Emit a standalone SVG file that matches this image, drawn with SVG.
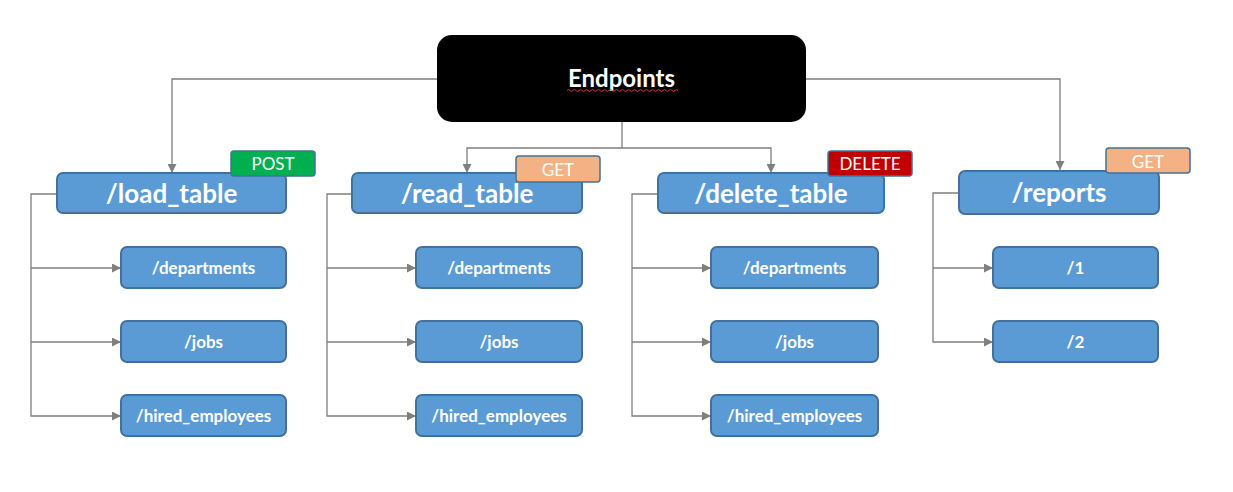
<svg xmlns="http://www.w3.org/2000/svg" width="1233" height="492" viewBox="0 0 1233 492">
<defs>
<marker id="arr" markerUnits="userSpaceOnUse" markerWidth="9" markerHeight="9" viewBox="0 0 10 10" refX="10" refY="5" orient="auto">
<path d="M0,0 L10,5 L0,10 z" fill="#7F7F7F"/>
</marker>
<style>
.bx{fill:#5B9BD5;stroke:#41719C;stroke-width:2}
.ln{fill:none;stroke:#7F7F7F;stroke-width:1.3}
.main{font-family:Lato,"Liberation Sans",Arial,sans-serif;font-weight:bold;font-size:26px;fill:#fff;text-anchor:middle}
.sub{font-family:Lato,"Liberation Sans",Arial,sans-serif;font-weight:bold;font-size:17px;fill:#fff;text-anchor:middle}
.bd{font-family:Lato,"Liberation Sans",Arial,sans-serif;font-size:17px;fill:#fff;text-anchor:middle}
</style>
</defs>
<rect width="1233" height="492" fill="#fff"/>
<g id="connectors">
<path class="ln" d="M437,79 H172 V173" marker-end="url(#arr)"/>
<path class="ln" d="M806,79 H1060 V170" marker-end="url(#arr)"/>
<path class="ln" d="M622,122 V148 H467 V173" marker-end="url(#arr)"/>
<path class="ln" d="M622,148 H771 V173" marker-end="url(#arr)"/>
<path class="ln" d="M57,194 H31 V416 H121" marker-end="url(#arr)"/>
<path class="ln" d="M31,268 H121" marker-end="url(#arr)"/>
<path class="ln" d="M31,342 H121" marker-end="url(#arr)"/>
<path class="ln" d="M352,194 H327 V416 H416" marker-end="url(#arr)"/>
<path class="ln" d="M327,268 H416" marker-end="url(#arr)"/>
<path class="ln" d="M327,342 H416" marker-end="url(#arr)"/>
<path class="ln" d="M658,194 H632 V416 H711" marker-end="url(#arr)"/>
<path class="ln" d="M632,268 H711" marker-end="url(#arr)"/>
<path class="ln" d="M632,342 H711" marker-end="url(#arr)"/>
<path class="ln" d="M959,193 H933 V342 H993" marker-end="url(#arr)"/>
<path class="ln" d="M933,268 H993" marker-end="url(#arr)"/>
</g>
<g id="endpoints">
<rect x="437" y="35" width="369" height="87" rx="15" fill="#000"/>
<text x="621.5" y="87" font-family="Lato,'Liberation Sans',Arial,sans-serif" font-weight="bold" font-size="24" fill="#fff" text-anchor="middle">Endpoints</text>
<path d="M567,90.5 q1.5,-2 3,0 t3,0 t3,0 t3,0 t3,0 t3,0 t3,0 t3,0 t3,0 t3,0 t3,0 t3,0 t3,0 t3,0 t3,0 t3,0 t3,0 t3,0 t3,0 t3,0 t3,0 t3,0 t3,0 t3,0 t3,0 t3,0 t3,0 t3,0 t3,0 t3,0 t3,0 t3,0 t3,0 t3,0 t3,0 t3,0 t3,0" fill="none" stroke="#E03030" stroke-width="1"/>
</g>
<g id="load_table">
<rect class="bx" x="57" y="173" width="229" height="40" rx="6"/>
<text class="main" x="171.5" y="202.5">/load_table</text>
</g>
<g id="badge_post">
<rect x="231" y="151" width="84" height="25" rx="3" fill="#00B050" stroke="#41719C" stroke-width="1.5"/>
<text class="bd" x="273" y="170">POST</text>
</g>
<g id="load_departments"><rect class="bx" x="121" y="247" width="165" height="41" rx="6"/><text class="sub" x="203.5" y="274">/departments</text></g>
<g id="load_jobs"><rect class="bx" x="121" y="321" width="165" height="41" rx="6"/><text class="sub" x="203.5" y="348">/jobs</text></g>
<g id="load_hired"><rect class="bx" x="121" y="395" width="165" height="41" rx="6"/><text class="sub" x="203.5" y="422">/hired_employees</text></g>

<g id="read_table">
<rect class="bx" x="352" y="173" width="230" height="40" rx="6"/>
<text class="main" x="467" y="202.5">/read_table</text>
</g>
<g id="badge_get_read">
<rect x="516" y="156" width="84" height="26" rx="3" fill="#F4B183" stroke="#41719C" stroke-width="1.5"/>
<text class="bd" x="558" y="175.5">GET</text>
</g>
<g id="read_departments"><rect class="bx" x="416" y="247" width="166" height="41" rx="6"/><text class="sub" x="499" y="274">/departments</text></g>
<g id="read_jobs"><rect class="bx" x="416" y="321" width="166" height="41" rx="6"/><text class="sub" x="499" y="348">/jobs</text></g>
<g id="read_hired"><rect class="bx" x="416" y="395" width="166" height="41" rx="6"/><text class="sub" x="499" y="422">/hired_employees</text></g>

<g id="delete_table">
<rect class="bx" x="658" y="173" width="226" height="40" rx="6"/>
<text class="main" x="771" y="202.5">/delete_table</text>
</g>
<g id="badge_delete">
<rect x="828" y="151" width="84" height="25" rx="3" fill="#C00000" stroke="#41719C" stroke-width="1.5"/>
<text class="bd" x="870" y="169.5" font-size="14.5">DELETE</text>
</g>
<g id="delete_departments"><rect class="bx" x="711" y="247" width="167" height="41" rx="6"/><text class="sub" x="794.5" y="274">/departments</text></g>
<g id="delete_jobs"><rect class="bx" x="711" y="321" width="167" height="41" rx="6"/><text class="sub" x="794.5" y="348">/jobs</text></g>
<g id="delete_hired"><rect class="bx" x="711" y="395" width="167" height="41" rx="6"/><text class="sub" x="794.5" y="422">/hired_employees</text></g>

<g id="reports">
<rect class="bx" x="959" y="171" width="200" height="43" rx="6"/>
<text class="main" x="1059" y="201.5">/reports</text>
</g>
<g id="badge_get_reports">
<rect x="1106" y="148" width="84" height="25" rx="3" fill="#F4B183" stroke="#41719C" stroke-width="1.5"/>
<text class="bd" x="1148" y="167.5">GET</text>
</g>
<g id="reports_1"><rect class="bx" x="993" y="247" width="165" height="41" rx="6"/><text class="sub" x="1075.5" y="274">/1</text></g>
<g id="reports_2"><rect class="bx" x="993" y="321" width="165" height="41" rx="6"/><text class="sub" x="1075.5" y="348">/2</text></g>
</svg>
